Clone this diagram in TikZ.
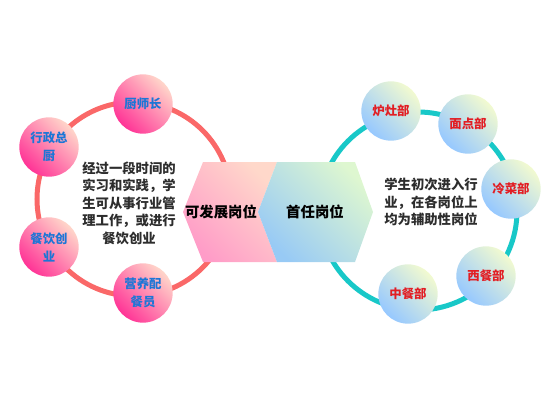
\documentclass[tikz,border=0pt]{standalone}
\usepackage{fontspec}
\newfontfamily\cjk{Noto Sans CJK SC}

\definecolor{ringred}{RGB}{250,104,104}
\definecolor{ringteal}{RGB}{24,200,200}
\definecolor{pinkdeep}{RGB}{255,52,150}
\definecolor{pinklight}{RGB}{255,214,202}
\definecolor{bluedeep}{RGB}{150,200,255}
\definecolor{bluelight}{RGB}{242,250,208}
\definecolor{chevpink}{RGB}{255,156,200}
\definecolor{chevpeach}{RGB}{255,216,202}
\definecolor{hexblue}{RGB}{152,202,245}
\definecolor{hexgreen}{RGB}{222,247,208}
\definecolor{labelblue}{RGB}{28,118,214}
\definecolor{labelred}{RGB}{226,30,36}
\definecolor{bodygray}{RGB}{45,45,45}

\tikzset{every picture/.style={line width=0.75pt}}
\tikzset{
  pinkball/.style={circle, minimum size=44.5pt, inner sep=0pt, top color=pinklight, bottom color=pinkdeep, shading angle=-45, align=center, text=labelblue, font=\cjk\bfseries\fontsize{9.3}{13.5}\selectfont},
  blueball/.style={circle, minimum size=44.5pt, inner sep=0pt, top color=bluelight, bottom color=bluedeep, shading angle=-45, align=center, text=labelred, font=\cjk\bfseries\fontsize{9.3}{13.5}\selectfont},
  bodytext/.style={text=bodygray, inner sep=0pt, font=\cjk\bfseries\fontsize{10}{13.1}\selectfont},
  headtext/.style={text=black, inner sep=0pt, font=\cjk\bfseries\fontsize{10.8}{13}\selectfont}
}

\begin{document}
\begin{tikzpicture}[x=0.75pt,y=0.75pt,yscale=-1,xscale=1]
	\useasboundingbox (0,0) rectangle (560,400);

	%Shape: Circle (left ring)
	\draw [color=ringred, line width=3.75pt] (134,199) circle [radius=97];
	%Shape: Circle (right ring)
	\draw [color=ringteal, line width=3.75pt] (418,211) circle [radius=99];

	%Shape: Chevron
	\shade [top color=chevpeach, bottom color=chevpink, shading angle=-45] (203,162) -- (277,162) -- (258,212) -- (277,262) -- (203,262) -- (183,212) -- cycle ;
	%Shape: Hexagon
	\shade [top color=hexgreen, bottom color=hexblue, shading angle=-45] (277,162) -- (355,162) -- (373,212) -- (355,262) -- (277,262) -- (258,212) -- cycle ;

	% Balls, left
	\node [pinkball] (chef) at (143,104) {厨师长};
	\node [pinkball] (exec) at (49,147) {行政总\\厨};
	\node [pinkball] (venture) at (49,247) {餐饮创\\业};
	\node [pinkball] (diet) at (143,293) {营养配\\餐员};

	% Balls, right
	\node [blueball] (stove) at (391,111) {炉灶部};
	\node [blueball] (pastry) at (468,124) {面点部};
	\node [blueball] (cold) at (511,189) {冷菜部};
	\node [blueball] (western) at (486,276) {西餐部};
	\node [blueball] (chinese) at (408,294) {中餐部};

	% Text Node
	\node [bodytext, align=center] (pathnote) at (129,203) {经过一段时间的\\实习和实践，学\\生可从事行业管\\理工作，或进行\\餐饮创业};
	% Text Node
	\node [bodytext, align=left] (entrynote) at (431,202) {学生初次进入行\\业，在各岗位上\\均为辅助性岗位};
	% Text Node
	\node [headtext] (growth) at (221,212) {可发展岗位};
	% Text Node
	\node [headtext] (first) at (315,212) {首任岗位};

\end{tikzpicture}
\end{document}
